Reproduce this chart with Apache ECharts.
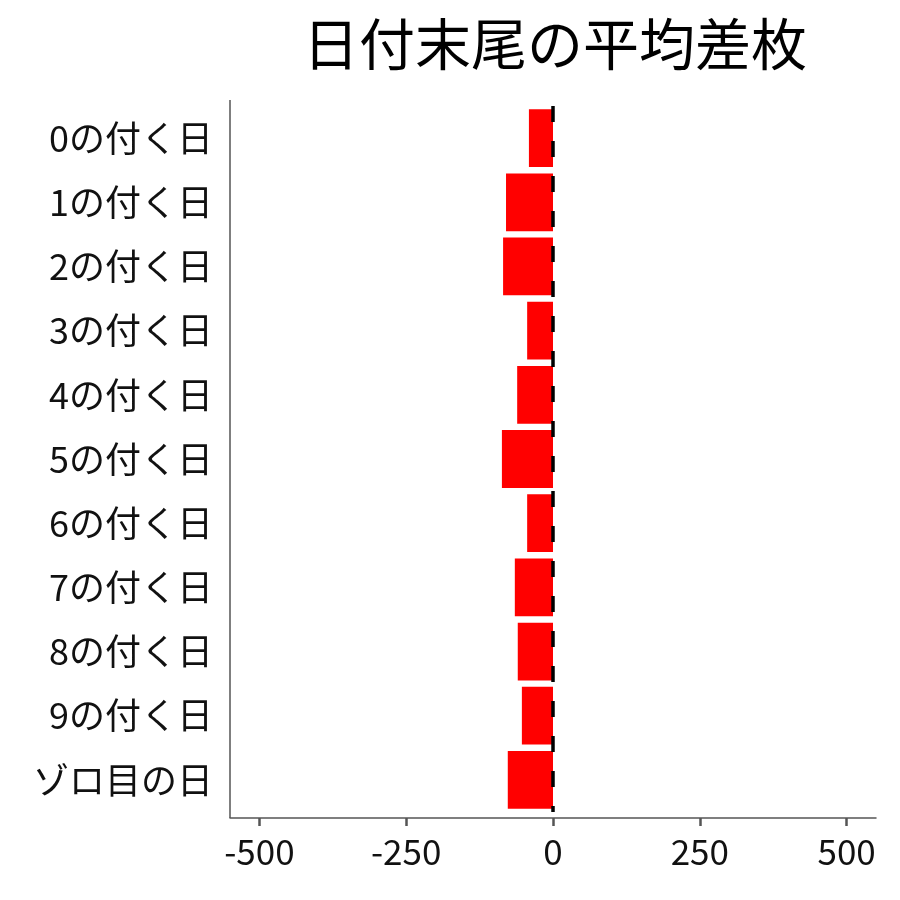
<!DOCTYPE html>
<html>
<head>
<meta charset="utf-8">
<script src="https://cdn.jsdelivr.net/npm/echarts@6/dist/echarts.min.js"></script>
<style>
  html, body { margin: 0; padding: 0; background: #fff; }
  #chart { width: 900px; height: 900px; }
</style>
</head>
<body>
<div id="chart"></div>
<script>
// 図のタイトルとデータ
const titleText = "日付末尾の平均差枚";
const categories = ["0の付く日", "1の付く日", "2の付く日", "3の付く日", "4の付く日",
  "5の付く日", "6の付く日", "7の付く日", "8の付く日", "9の付く日", "ゾロ目の日"];
const diffValues = [-41, -80, -85, -44, -61, -87, -44, -65, -60, -53, -77];
const xTicks = [-500, -250, 0, 250, 500];

const font = '"Noto Sans CJK JP", "Noto Sans", sans-serif';

let myChart = echarts.init(document.getElementById("chart"));

let option = {
  animation: false,
  backgroundColor: "#ffffff",
  title: {
    text: titleText,
    left: 550,
    top: 11,
    textAlign: "center",
    textStyle: { fontFamily: font, fontSize: 56, fontWeight: "normal", color: "#000" }
  },
  grid: { left: 230, right: 24, top: 106, bottom: 88, containLabel: false },
  xAxis: {
    type: "value",
    min: -550,
    max: 550,
    offset: 6,
    splitLine: { show: false },
    axisLine: { show: true, lineStyle: { color: "#555", width: 1.5 } },
    axisTick: { show: true, length: 8, customValues: xTicks, lineStyle: { color: "#555", width: 2.5 } },
    axisLabel: {
      customValues: xTicks,
      margin: 16,
      color: "#111",
      fontFamily: font,
      fontSize: 35
    }
  },
  yAxis: {
    type: "category",
    data: categories,
    inverse: true,
    axisLine: { show: false },
    axisTick: { show: true, length: 8, alignWithLabel: true, lineStyle: { color: "#555", width: 2.5 } },
    axisLabel: { margin: 17, color: "#111", fontFamily: font, fontSize: 36 },
    splitLine: { show: false }
  },
  graphic: [{
    // 左の軸線
    type: "line",
    shape: { x1: 230, y1: 100, x2: 230, y2: 818 },
    style: { stroke: "#555", lineWidth: 1.5 },
    z: 10
  }],
  series: [{
    type: "bar",
    data: diffValues,
    barWidth: "90%",
    itemStyle: { color: "#ff0000" },
    markLine: {
      silent: true,
      symbol: ["none", "none"],
      label: { show: false },
      lineStyle: { color: "#000", type: [16, 19], width: 3.5 },
      data: [{ xAxis: 0 }],
      z: 5
    }
  }]
};

myChart.setOption(option);
</script>
</body>
</html>
